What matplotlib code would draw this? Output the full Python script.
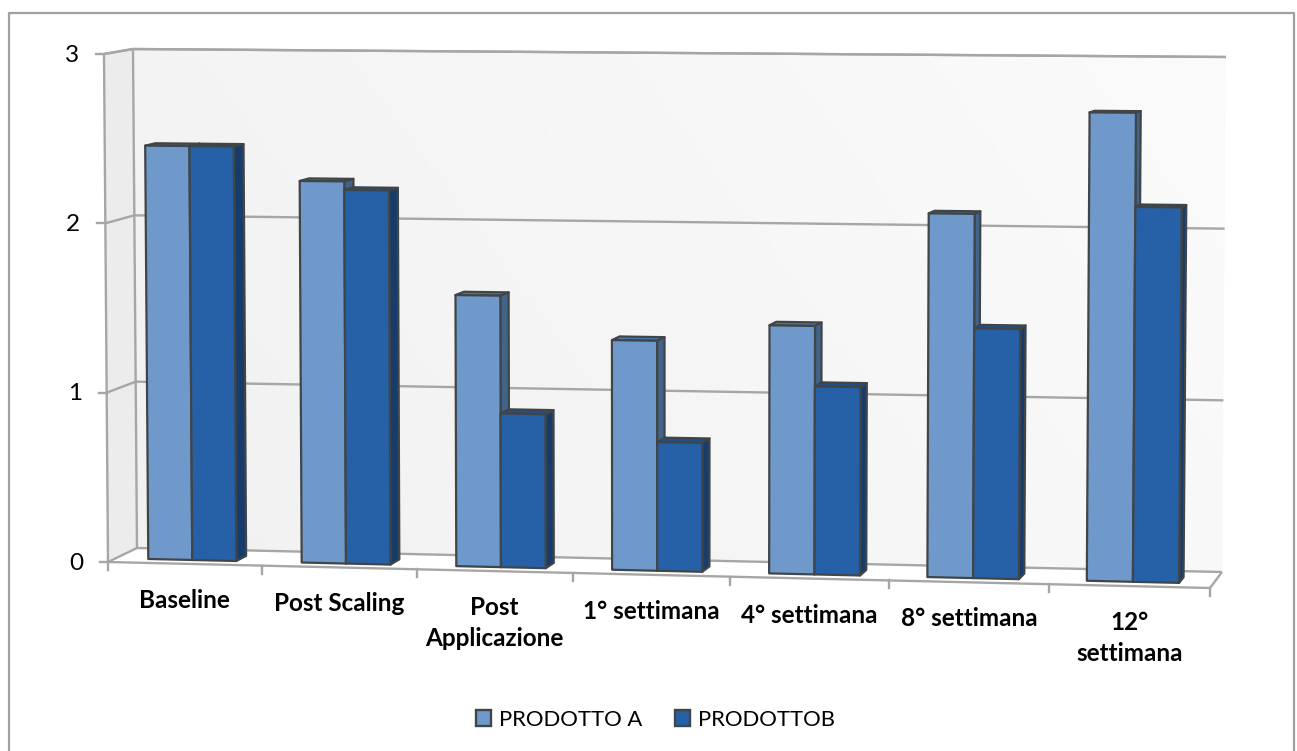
import numpy as np
import matplotlib
matplotlib.use('Agg')
import matplotlib.pyplot as plt
from matplotlib.colors import LinearSegmentedColormap
from matplotlib.patches import Polygon, Patch

plt.rcParams['font.family'] = ['Lato', 'DejaVu Sans']

# Dati del grafico
CATEGORIES = ['Baseline', 'Post Scaling', 'Post\nApplicazione', '1° settimana',
              '4° settimana', '8° settimana', '12°\nsettimana']
PRODOTTO_A = [2.45, 2.25, 1.59, 1.34, 1.44, 2.10, 2.69]
PRODOTTO_B = [2.45, 2.20, 0.90, 0.75, 1.09, 1.44, 2.15]
SERIES_NAMES = ['PRODOTTO A', 'PRODOTTOB']
Y_TICKS = [0, 1, 2, 3]

# Angoli della scatola 3D in pixel (fronte/retro, basso/alto)
FRONT_BL, FRONT_TL = np.array([108, 562.]), np.array([104, 54.])
FRONT_BR, FRONT_TR = np.array([1210, 588.]), np.array([1214, 60.])
BACK_BL, BACK_TL = np.array([137, 548.]), np.array([133, 49.])
BACK_BR, BACK_TR = np.array([1222, 572.]), np.array([1226, 57.])

Y_MAX = 3.0
BAR_START, BAR_END = 0.2125, 0.7875
DEPTH_FRONT, DEPTH_BACK = 0.27, 0.63

COLOR_GRID = '#A6A6A6'
COLOR_EDGE = '#404548'
COLORS_A = {'front': '#6F98CB', 'side': '#43648A', 'top': '#4D76A8'}
COLORS_B = {'front': '#2660A6', 'side': '#173C6B', 'top': '#234F87'}


def project(cat, depth, value):
    """Porta (categoria, profondita, valore) in coordinate pixel."""
    f = cat / len(CATEGORIES)
    g = f + 0.027 * f * (f - 1)  # leggera prospettiva lungo l'asse x
    v = value / Y_MAX
    front_b = FRONT_BL + (FRONT_BR - FRONT_BL) * g
    front_t = FRONT_TL + (FRONT_TR - FRONT_TL) * g
    back_b = BACK_BL + (BACK_BR - BACK_BL) * g
    back_t = BACK_TL + (BACK_TR - BACK_TL) * g
    front = front_b + (front_t - front_b) * v
    back = back_b + (back_t - back_b) * v
    return front + (back - front) * depth


def draw_box(ax, cat0, cat1, value, colors, z):
    d0, d1 = DEPTH_FRONT, DEPTH_BACK
    top = [project(cat0, d0, value), project(cat1, d0, value),
           project(cat1, d1, value), project(cat0, d1, value)]
    side = [project(cat1, d0, 0), project(cat1, d1, 0),
            project(cat1, d1, value), project(cat1, d0, value)]
    front = [project(cat0, d0, 0), project(cat1, d0, 0),
             project(cat1, d0, value), project(cat0, d0, value)]
    for pts, key in ((top, 'top'), (side, 'side'), (front, 'front')):
        ax.add_patch(Polygon(pts, closed=True, facecolor=colors[key],
                             edgecolor=COLOR_EDGE, linewidth=1.6,
                             joinstyle='round', zorder=z))


def line(ax, a, b, lw=1.7, z=2):
    ax.plot([a[0], b[0]], [a[1], b[1]], color=COLOR_GRID, lw=lw,
            solid_capstyle='butt', zorder=z)


fig = plt.figure(figsize=(12.97, 7.51), dpi=100)
ax = fig.add_axes([0, 0, 1, 1])
ax.axis('off')

# Cornice esterna: il lato inferiore cade fuori dall'immagine
ax.plot([8.5, 8.5, 1294, 1294], [751, 12.5, 12.5, 751], color='#A0A0A0', lw=1.6, zorder=0)

# Pareti della scatola
n = len(CATEGORIES)
back_wall = Polygon([BACK_BL, BACK_BR, BACK_TR, BACK_TL], closed=True,
                    facecolor='none', edgecolor='none', zorder=1)
ax.add_patch(back_wall)
shade = np.linspace(0, 1, 200)[None, :] - np.linspace(0, 0.35, 100)[:, None]
img = ax.imshow(shade, cmap=LinearSegmentedColormap.from_list('wall', ['#F1F1F1', '#FBFBFB']),
                extent=(133, 1226, 572, 49), aspect='auto', zorder=1)
img.set_clip_path(back_wall)
ax.set_xlim(0, 1297)
ax.set_ylim(751, 0)
ax.add_patch(Polygon([FRONT_BL, BACK_BL, BACK_TL, FRONT_TL], closed=True,
                     facecolor='#ECECEC', edgecolor='none', zorder=1))

# Griglia su parete laterale e di fondo
for val in Y_TICKS[1:]:
    line(ax, project(0, 0, val), project(0, 1, val))
    line(ax, project(0, 1, val), project(n, 1, val))
line(ax, FRONT_BL, FRONT_TL)
line(ax, BACK_BL, BACK_TL)
line(ax, FRONT_TL, BACK_TL)
line(ax, BACK_TL, BACK_TR)
line(ax, FRONT_BL, BACK_BL)
line(ax, BACK_BL, BACK_BR)
line(ax, FRONT_BL, FRONT_BR)
line(ax, FRONT_BR, BACK_BR)

# Tacche e etichette asse y
for val in Y_TICKS:
    p = project(0, 0, val)
    ax.plot([p[0] - 8, p[0]], [p[1], p[1]], color=COLOR_GRID, lw=1.7, zorder=2)
    ax.text(p[0] - 32, p[1] + 1, str(val), ha='center', va='center', fontsize=17.5, color='black')

# Tacche e etichette asse x
for i in range(n + 1):
    p = project(i, 0, 0)
    ax.plot([p[0], p[0]], [p[1], p[1] + 8], color=COLOR_GRID, lw=1.7, zorder=2)
for i, label in enumerate(CATEGORIES):
    p = project(i + 0.5, 0, 0)
    ax.text(p[0], p[1] + 25, label, ha='center', va='top', fontsize=17.5,
            fontweight='bold', color='black', linespacing=1.41)

# Barre
for i, (a, b) in enumerate(zip(PRODOTTO_A, PRODOTTO_B)):
    mid = (BAR_START + BAR_END) / 2
    draw_box(ax, i + BAR_START, i + mid, a, COLORS_A, 3 + i * 2)
    draw_box(ax, i + mid, i + BAR_END, b, COLORS_B, 4 + i * 2)

# Legenda
handles = [Patch(facecolor=COLORS_A['front'], edgecolor=COLOR_EDGE, linewidth=1.7),
           Patch(facecolor=COLORS_B['front'], edgecolor=COLOR_EDGE, linewidth=1.7)]
leg = ax.legend(handles, SERIES_NAMES, ncol=2, frameon=False, fontsize=15.8,
                loc='center', bbox_to_anchor=(0.5054, 0.0415),
                handlelength=0.72, handleheight=0.72, handletextpad=0.36, columnspacing=1.46)

fig.savefig('out.png', dpi=100)
